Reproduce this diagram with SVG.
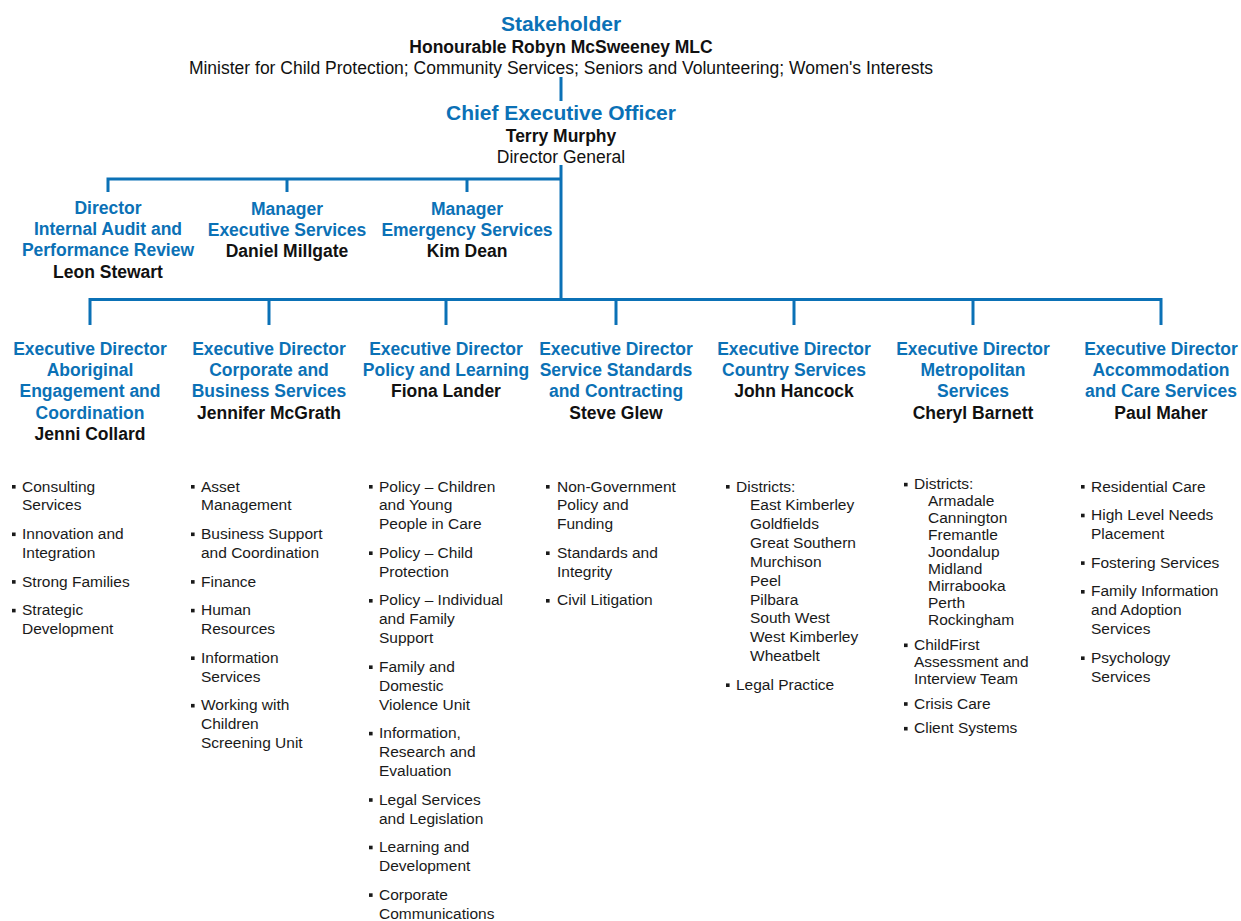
<svg xmlns="http://www.w3.org/2000/svg" width="1241" height="921" viewBox="0 0 1241 921">
<style>
text{font-family:"Liberation Sans",Arial,sans-serif}
.t{font-size:21px;font-weight:bold;fill:#0b71b6;text-anchor:middle}
.h{font-size:17.5px;font-weight:bold;fill:#0b71b6;text-anchor:middle}
.n{font-size:17.5px;font-weight:bold;fill:#111;text-anchor:middle}
.r{font-size:17.5px;fill:#111;text-anchor:middle}
.li{font-size:15.5px;fill:#1a1a1a}
.b{fill:#1a1a1a}
.c{stroke:#0b71b6;stroke-width:3;fill:none}
</style>
<rect width="1241" height="921" fill="#fff"/>
<g id="connectors" class="c">
<line x1="561" y1="77" x2="561" y2="101"/>
<line x1="561" y1="165" x2="561" y2="300"/>
<path d="M108,192 V179 H561"/>
<line x1="287" y1="179" x2="287" y2="192"/>
<line x1="467" y1="179" x2="467" y2="192"/>
<path d="M90,325 V299.5 H1161 V325"/>
<line x1="269" y1="299.5" x2="269" y2="325"/>
<line x1="446" y1="299.5" x2="446" y2="325"/>
<line x1="616" y1="299.5" x2="616" y2="325"/>
<line x1="794" y1="299.5" x2="794" y2="325"/>
<line x1="973" y1="299.5" x2="973" y2="325"/>
</g>
<g id="stakeholder">
<text class="t" x="561" y="31">Stakeholder</text>
<text class="n" x="561" y="53.3">Honourable Robyn McSweeney MLC</text>
<text class="r" x="561" y="74">Minister for Child Protection; Community Services; Seniors and Volunteering; Women's Interests</text>
</g>
<g id="ceo">
<text class="t" x="561" y="120">Chief Executive Officer</text>
<text class="n" x="561" y="142">Terry Murphy</text>
<text class="r" x="561" y="163.3">Director General</text>
</g>
<g id="audit">
<text class="h" x="108" y="213.5">Director</text>
<text class="h" x="108" y="235">Internal Audit and</text>
<text class="h" x="108" y="256.3">Performance Review</text>
<text class="n" x="108" y="277.6">Leon Stewart</text>
</g>
<g id="exec-services">
<text class="h" x="287" y="214.5">Manager</text>
<text class="h" x="287" y="236">Executive Services</text>
<text class="n" x="287" y="257">Daniel Millgate</text>
</g>
<g id="emergency">
<text class="h" x="467" y="214.5">Manager</text>
<text class="h" x="467" y="236">Emergency Services</text>
<text class="n" x="467" y="257">Kim Dean</text>
</g>
<g id="aboriginal">
<text class="h" x="90" y="355">Executive Director</text>
<text class="h" x="90" y="376.2">Aboriginal</text>
<text class="h" x="90" y="397.4">Engagement and</text>
<text class="h" x="90" y="418.6">Coordination</text>
<text class="n" x="90" y="439.8">Jenni Collard</text>
<rect class="b" x="12" y="485" width="3.6" height="3.6"/>
<rect class="b" x="12" y="532.5" width="3.6" height="3.6"/>
<rect class="b" x="12" y="580.1" width="3.6" height="3.6"/>
<rect class="b" x="12" y="608.8" width="3.6" height="3.6"/>
<text class="li" x="22" y="491.5">Consulting</text>
<text class="li" x="22" y="510.35">Services</text>
<text class="li" x="22" y="539.05">Innovation and</text>
<text class="li" x="22" y="557.9">Integration</text>
<text class="li" x="22" y="586.6">Strong Families</text>
<text class="li" x="22" y="615.3">Strategic</text>
<text class="li" x="22" y="634.15">Development</text>
</g>
<g id="corporate">
<text class="h" x="269" y="355">Executive Director</text>
<text class="h" x="269" y="376.2">Corporate and</text>
<text class="h" x="269" y="397.4">Business Services</text>
<text class="n" x="269" y="418.6">Jennifer McGrath</text>
<rect class="b" x="191" y="485" width="3.6" height="3.6"/>
<rect class="b" x="191" y="532.5" width="3.6" height="3.6"/>
<rect class="b" x="191" y="580.1" width="3.6" height="3.6"/>
<rect class="b" x="191" y="608.8" width="3.6" height="3.6"/>
<rect class="b" x="191" y="656.4" width="3.6" height="3.6"/>
<rect class="b" x="191" y="703.9" width="3.6" height="3.6"/>
<text class="li" x="201" y="491.5">Asset</text>
<text class="li" x="201" y="510.35">Management</text>
<text class="li" x="201" y="539.05">Business Support</text>
<text class="li" x="201" y="557.9">and Coordination</text>
<text class="li" x="201" y="586.6">Finance</text>
<text class="li" x="201" y="615.3">Human</text>
<text class="li" x="201" y="634.15">Resources</text>
<text class="li" x="201" y="662.85">Information</text>
<text class="li" x="201" y="681.7">Services</text>
<text class="li" x="201" y="710.4">Working with</text>
<text class="li" x="201" y="729.25">Children</text>
<text class="li" x="201" y="748.1">Screening Unit</text>
</g>
<g id="policy">
<text class="h" x="446" y="355">Executive Director</text>
<text class="h" x="446" y="376.2">Policy and Learning</text>
<text class="n" x="446" y="397.4">Fiona Lander</text>
<rect class="b" x="369" y="485" width="3.6" height="3.6"/>
<rect class="b" x="369" y="551.4" width="3.6" height="3.6"/>
<rect class="b" x="369" y="599" width="3.6" height="3.6"/>
<rect class="b" x="369" y="665.4" width="3.6" height="3.6"/>
<rect class="b" x="369" y="731.8" width="3.6" height="3.6"/>
<rect class="b" x="369" y="798.2" width="3.6" height="3.6"/>
<rect class="b" x="369" y="845.7" width="3.6" height="3.6"/>
<rect class="b" x="369" y="893.3" width="3.6" height="3.6"/>
<text class="li" x="379" y="491.5">Policy – Children</text>
<text class="li" x="379" y="510.35">and Young</text>
<text class="li" x="379" y="529.2">People in Care</text>
<text class="li" x="379" y="557.9">Policy – Child</text>
<text class="li" x="379" y="576.75">Protection</text>
<text class="li" x="379" y="605.45">Policy – Individual</text>
<text class="li" x="379" y="624.3">and Family</text>
<text class="li" x="379" y="643.15">Support</text>
<text class="li" x="379" y="671.85">Family and</text>
<text class="li" x="379" y="690.7">Domestic</text>
<text class="li" x="379" y="709.55">Violence Unit</text>
<text class="li" x="379" y="738.25">Information,</text>
<text class="li" x="379" y="757.1">Research and</text>
<text class="li" x="379" y="775.95">Evaluation</text>
<text class="li" x="379" y="804.65">Legal Services</text>
<text class="li" x="379" y="823.5">and Legislation</text>
<text class="li" x="379" y="852.2">Learning and</text>
<text class="li" x="379" y="871.05">Development</text>
<text class="li" x="379" y="899.75">Corporate</text>
<text class="li" x="379" y="918.6">Communications</text>
</g>
<g id="standards">
<text class="h" x="616" y="355">Executive Director</text>
<text class="h" x="616" y="376.2">Service Standards</text>
<text class="h" x="616" y="397.4">and Contracting</text>
<text class="n" x="616" y="418.6">Steve Glew</text>
<rect class="b" x="546" y="485" width="3.6" height="3.6"/>
<rect class="b" x="546" y="551.4" width="3.6" height="3.6"/>
<rect class="b" x="546" y="599" width="3.6" height="3.6"/>
<text class="li" x="557" y="491.5">Non-Government</text>
<text class="li" x="557" y="510.35">Policy and</text>
<text class="li" x="557" y="529.2">Funding</text>
<text class="li" x="557" y="557.9">Standards and</text>
<text class="li" x="557" y="576.75">Integrity</text>
<text class="li" x="557" y="605.45">Civil Litigation</text>
</g>
<g id="country">
<text class="h" x="794" y="355">Executive Director</text>
<text class="h" x="794" y="376.2">Country Services</text>
<text class="n" x="794" y="397.4">John Hancock</text>
<rect class="b" x="726" y="485" width="3.6" height="3.6"/>
<rect class="b" x="726" y="683.4" width="3.6" height="3.6"/>
<text class="li" x="736" y="491.5">Districts:</text>
<text class="li" x="750" y="510.35">East Kimberley</text>
<text class="li" x="750" y="529.2">Goldfields</text>
<text class="li" x="750" y="548.05">Great Southern</text>
<text class="li" x="750" y="566.9">Murchison</text>
<text class="li" x="750" y="585.75">Peel</text>
<text class="li" x="750" y="604.6">Pilbara</text>
<text class="li" x="750" y="623.45">South West</text>
<text class="li" x="750" y="642.3">West Kimberley</text>
<text class="li" x="750" y="661.15">Wheatbelt</text>
<text class="li" x="736" y="689.85">Legal Practice</text>
</g>
<g id="metropolitan">
<text class="h" x="973" y="355">Executive Director</text>
<text class="h" x="973" y="376.2">Metropolitan</text>
<text class="h" x="973" y="397.4">Services</text>
<text class="n" x="973" y="418.6">Cheryl Barnett</text>
<rect class="b" x="904" y="482.8" width="3.6" height="3.6"/>
<rect class="b" x="904" y="643.5" width="3.6" height="3.6"/>
<rect class="b" x="904" y="702.2" width="3.6" height="3.6"/>
<rect class="b" x="904" y="726.9" width="3.6" height="3.6"/>
<text class="li" x="914" y="489.3">Districts:</text>
<text class="li" x="928" y="506.3">Armadale</text>
<text class="li" x="928" y="523.3">Cannington</text>
<text class="li" x="928" y="540.3">Fremantle</text>
<text class="li" x="928" y="557.3">Joondalup</text>
<text class="li" x="928" y="574.3">Midland</text>
<text class="li" x="928" y="591.3">Mirrabooka</text>
<text class="li" x="928" y="608.3">Perth</text>
<text class="li" x="928" y="625.3">Rockingham</text>
<text class="li" x="914" y="650">ChildFirst</text>
<text class="li" x="914" y="667">Assessment and</text>
<text class="li" x="914" y="684">Interview Team</text>
<text class="li" x="914" y="708.7">Crisis Care</text>
<text class="li" x="914" y="733.4">Client Systems</text>
</g>
<g id="accommodation">
<text class="h" x="1161" y="355">Executive Director</text>
<text class="h" x="1161" y="376.2">Accommodation</text>
<text class="h" x="1161" y="397.4">and Care Services</text>
<text class="n" x="1161" y="418.6">Paul Maher</text>
<rect class="b" x="1081" y="485" width="3.6" height="3.6"/>
<rect class="b" x="1081" y="513.7" width="3.6" height="3.6"/>
<rect class="b" x="1081" y="561.3" width="3.6" height="3.6"/>
<rect class="b" x="1081" y="590" width="3.6" height="3.6"/>
<rect class="b" x="1081" y="656.4" width="3.6" height="3.6"/>
<text class="li" x="1091" y="491.5">Residential Care</text>
<text class="li" x="1091" y="520.2">High Level Needs</text>
<text class="li" x="1091" y="539.05">Placement</text>
<text class="li" x="1091" y="567.75">Fostering Services</text>
<text class="li" x="1091" y="596.45">Family Information</text>
<text class="li" x="1091" y="615.3">and Adoption</text>
<text class="li" x="1091" y="634.15">Services</text>
<text class="li" x="1091" y="662.85">Psychology</text>
<text class="li" x="1091" y="681.7">Services</text>
</g>
</svg>
